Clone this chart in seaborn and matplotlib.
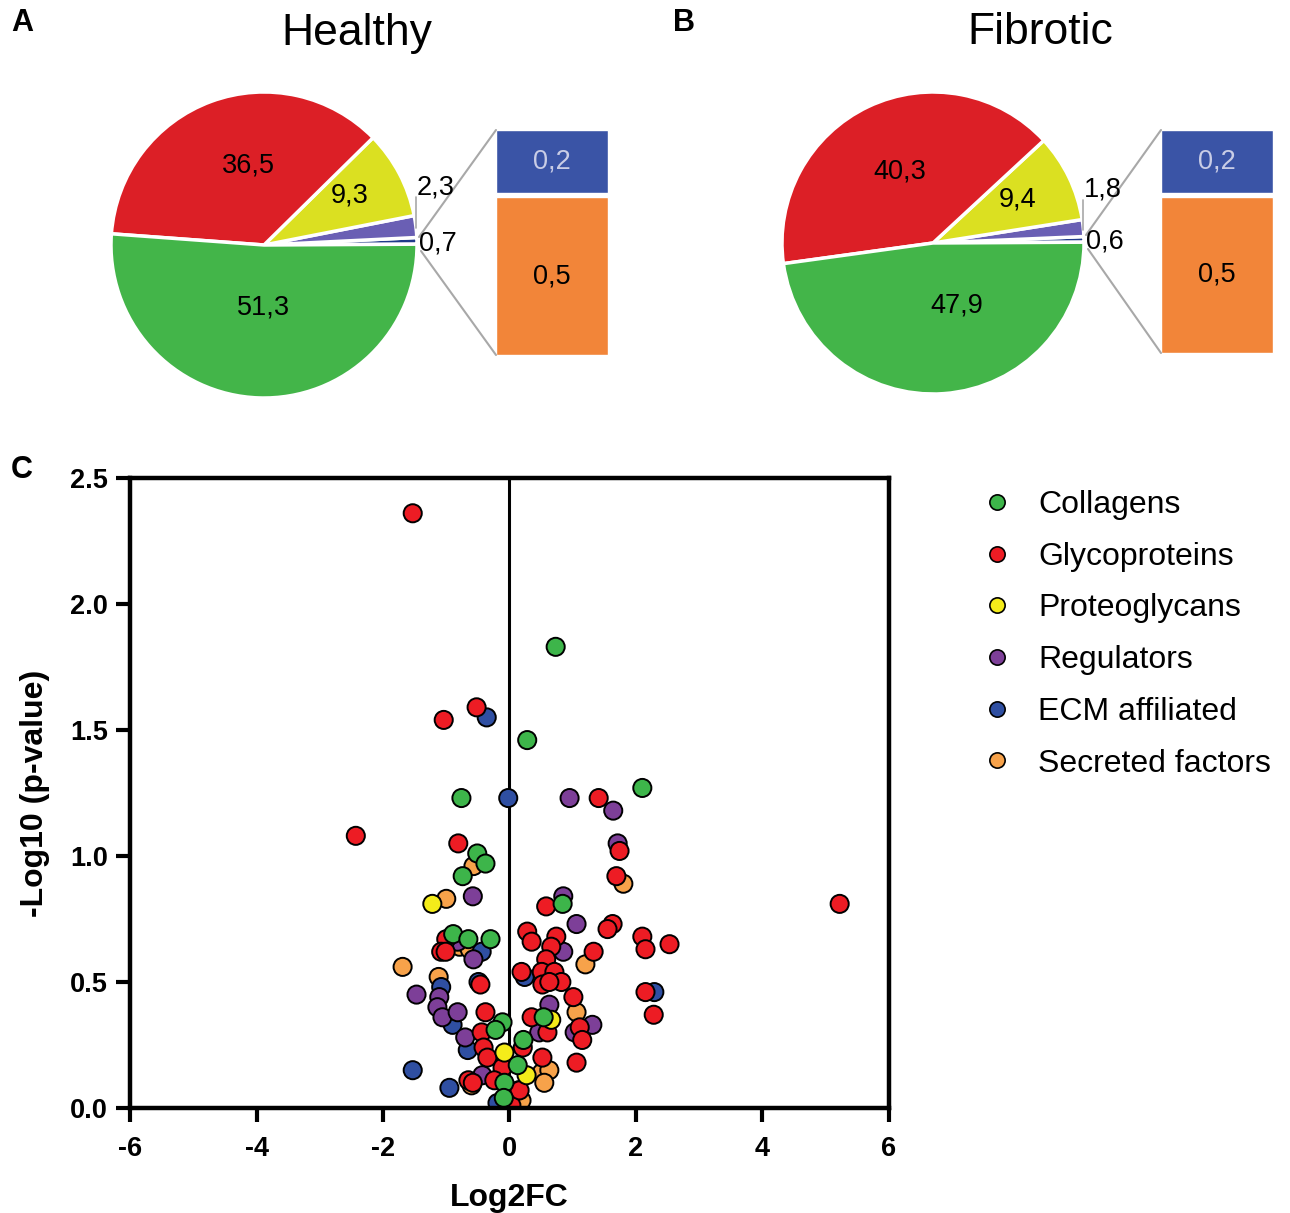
import matplotlib
matplotlib.use("Agg")
import matplotlib.pyplot as plt
from matplotlib.lines import Line2D
import pandas as pd
import seaborn as sns

W, H = 1290, 1213

# --- pie data (A: healthy, B: fibrotic), small slice = ECM affiliated + secreted factors
pie_names = ["Other", "Regulators", "Proteoglycans", "Glycoproteins", "Collagens"]
healthy_pct = [0.7, 2.3, 9.3, 36.5, 51.3]
fibrotic_pct = [0.6, 1.8, 9.4, 40.3, 47.9]
pie_text = {
    "healthy": ["0,7", "2,3", "9,3", "36,5", "51,3"],
    "fibrotic": ["0,6", "1,8", "9,4", "40,3", "47,9"],
}
bar_names = ["Secreted factors", "ECM affiliated"]
healthy_bar = [0.5, 0.2]
fibrotic_bar = [0.5, 0.2]
bar_text = ["0,5", "0,2"]

# --- volcano data (Log2FC, -Log10 p)
collagen_x = [0.73, 0.28, -0.76, 2.10, -0.51, -0.38, -0.74, 0.84, -0.89, -0.65, -0.30,
              0.54, -0.11, -0.22, 0.22, 0.13, -0.08, -0.09]
collagen_y = [1.83, 1.46, 1.23, 1.27, 1.01, 0.97, 0.92, 0.81, 0.69, 0.67, 0.67,
              0.36, 0.34, 0.31, 0.27, 0.17, 0.10, 0.04]
glyco_x = [-1.53, -0.52, -1.04, 1.41, -2.43, -0.81, 1.74, 1.69, 5.22, 0.58, 1.63, 1.55,
           0.28, 0.35, 0.74, 0.66, 1.33, 2.10, 2.15, 2.53, 0.58, 0.19, 0.51, 0.71, 0.82,
           0.52, 0.63, 1.01, 2.15, 2.28, 1.11, 1.15, 1.06, 0.35, 0.60, 0.21, 0.52, 0.14,
           0.03, -1.00, -1.08, -1.01, -0.46, -0.38, -0.44, -0.41, -0.35, -0.11, -0.65,
           -0.58, -0.24, 0.16]
glyco_y = [2.36, 1.59, 1.54, 1.23, 1.08, 1.05, 1.02, 0.92, 0.81, 0.80, 0.73, 0.71,
           0.70, 0.66, 0.68, 0.64, 0.62, 0.68, 0.63, 0.65, 0.59, 0.54, 0.54, 0.54, 0.50,
           0.49, 0.50, 0.44, 0.46, 0.37, 0.32, 0.27, 0.18, 0.36, 0.30, 0.24, 0.20, 0.07,
           0.01, 0.67, 0.62, 0.62, 0.49, 0.38, 0.30, 0.24, 0.20, 0.16, 0.11,
           0.10, 0.11, 0.07]
proteo_x = [-1.22, -0.08, 0.27, 0.66]
proteo_y = [0.81, 0.22, 0.13, 0.35]
regul_x = [0.95, 1.64, 1.71, -0.58, 0.85, 1.06, 0.85, -0.82, -0.57, 0.63, 1.03, 1.31,
           0.47, -1.47, -1.11, -1.14, -1.06, -0.82, -0.70, -0.43]
regul_y = [1.23, 1.18, 1.05, 0.84, 0.84, 0.73, 0.62, 0.66, 0.59, 0.41, 0.30, 0.33,
           0.30, 0.45, 0.44, 0.40, 0.36, 0.38, 0.28, 0.13]
ecm_x = [-0.36, -0.02, -0.44, -0.49, -1.08, 0.24, 2.29, -0.90, -0.66, -1.53, -0.95, -0.19]
ecm_y = [1.55, 1.23, 0.62, 0.50, 0.48, 0.52, 0.46, 0.33, 0.23, 0.15, 0.08, 0.02]
secr_x = [-0.57, 1.80, -1.00, -0.79, -0.63, -1.69, -1.12, 1.20, 1.06, 0.51, 0.63, 0.55,
          0.19, -0.60]
secr_y = [0.96, 0.89, 0.83, 0.64, 0.63, 0.56, 0.52, 0.57, 0.38, 0.14, 0.15, 0.10,
          0.03, 0.09]

legend_order = ["Collagens", "Glycoproteins", "Proteoglycans", "Regulators",
                "ECM affiliated", "Secreted factors"]
scatter_colors = {
    "Collagens": "#3db54a", "Glycoproteins": "#ed1c24", "Proteoglycans": "#f4ec1a",
    "Regulators": "#7d3f98", "ECM affiliated": "#2f4fa2", "Secreted factors": "#f7a24a",
}
pie_colors = ["#1f3a8a", "#6a5fb4", "#dbe021", "#dc1f26", "#43b549"]
bar_colors = ["#f28539", "#3a54a6"]

sns.set_style("white")
plt.rcParams["font.family"] = ["Liberation Sans", "DejaVu Sans"]
plt.rcParams.update({"text.color": "black", "axes.labelcolor": "black",
                     "xtick.color": "black", "ytick.color": "black"})

fig = plt.figure(figsize=(W / 100, H / 100), dpi=100)

# ---------- top panels, drawn in pixel coordinates (y up)
top = fig.add_axes([0, 0, 1, 1])


def Y(py):
    return H - py


def pie_panel(pct, labels, bar_vals, cx, cy, r, bar_x, bar_top, bar_bot, text_pos, leader):
    top.pie(pct, colors=pie_colors, startangle=0.3, counterclock=True,
            center=(cx, Y(cy)), radius=r,
            wedgeprops=dict(edgecolor="white", linewidth=2.5))
    for lab, (tx, ty) in zip(labels, text_pos):
        top.text(tx, Y(ty), lab, fontsize=19.5, ha="center", va="center")
    # leader for the small outside label
    top.plot([leader[0], leader[0]], [Y(leader[1]), Y(leader[2])], color="#a8a8a8", lw=1.2)
    # bar of pie
    gap = 4
    scale = (bar_bot - bar_top - gap) / sum(bar_vals)
    bottom = Y(bar_bot)
    for v, c, t, tc in zip(bar_vals, bar_colors, bar_text, ["black", "#c9cde6"]):
        top.bar(bar_x, v * scale, width=112, bottom=bottom, color=c, align="center")
        top.text(bar_x, bottom + v * scale / 2, t, fontsize=19.5, ha="center",
                 va="center", color=tc)
        bottom += v * scale + gap
    # connector lines
    left = bar_x - 56
    top.plot([cx + r + 2, left], [Y(cy - 8), Y(bar_top)], color="#a8a8a8", lw=1.5)
    top.plot([cx + r + 4, left], [Y(cy + 6), Y(bar_bot)], color="#a8a8a8", lw=1.5)


pie_panel(healthy_pct, pie_text["healthy"], healthy_bar, 264, 245, 153, 552, 130, 355,
          [(438, 243), (436, 187), (350, 195), (248, 165), (264, 307)], (416, 197, 228))
pie_panel(fibrotic_pct, pie_text["fibrotic"], fibrotic_bar, 933, 243, 151, 1217, 130, 353,
          [(1105, 242), (1103, 190), (1018, 199), (900, 172), (957, 305)], (1083, 200, 230))

top.set_xlim(0, W)
top.set_ylim(0, H)
top.set_aspect("auto")
top.axis("off")

top.text(357, Y(33), "Healthy", fontsize=32, ha="center", va="center")
top.text(1040, Y(33), "Fibrotic", fontsize=32, ha="center", va="center")
for lab, (px, py) in zip(["A", "B", "C"], [(22, 23), (684, 23), (22, 470)]):
    top.text(px, Y(py), lab, fontsize=22, fontweight="bold", ha="center", va="center")

# ---------- volcano plot
groups = [
    ("Secreted factors", secr_x, secr_y),
    ("ECM affiliated", ecm_x, ecm_y),
    ("Regulators", regul_x, regul_y),
    ("Glycoproteins", glyco_x, glyco_y),
    ("Proteoglycans", proteo_x, proteo_y),
    ("Collagens", collagen_x, collagen_y),
]
df = pd.concat(
    [pd.DataFrame({"Log2FC": xs, "p": ys, "category": name}) for name, xs, ys in groups],
    ignore_index=True,
)

ax = fig.add_axes([130 / W, 1 - 1108 / H, 759 / W, 630 / H])
ax.axvline(0, color="black", lw=2.2, zorder=0.5)
sns.scatterplot(data=df, x="Log2FC", y="p", hue="category", palette=scatter_colors,
                s=170, edgecolor="black", linewidth=1.4, legend=False, ax=ax, zorder=2)

ax.set_xlim(-6, 6)
ax.set_ylim(0, 2.5)
xt = [-6, -4, -2, 0, 2, 4, 6]
yt = [0, 0.5, 1.0, 1.5, 2.0, 2.5]
ax.set_xticks(xt)
ax.set_xticklabels([str(v) for v in xt], fontsize=19.5, fontweight="bold")
ax.set_yticks(yt)
ax.set_yticklabels([f"{v:.1f}" for v in yt], fontsize=19.5, fontweight="bold")
ax.tick_params(axis="both", direction="out", length=10, width=3, color="black",
               bottom=True, left=True)
ax.tick_params(axis="x", pad=10)
ax.tick_params(axis="y", pad=6)
for sp in ax.spines.values():
    sp.set_linewidth(3.2)
    sp.set_color("black")
    sp.set_visible(True)
ax.set_xlabel("Log2FC", fontsize=23, fontweight="bold", labelpad=15)
ax.set_ylabel("-Log10 (p-value)", fontsize=23, fontweight="bold", labelpad=14)

handles = [Line2D([0], [0], marker="o", linestyle="", markersize=11,
                  markerfacecolor=scatter_colors[n], markeredgecolor="black",
                  markeredgewidth=1.2) for n in legend_order]
fig.legend(handles, legend_order, loc="upper left", bbox_to_anchor=(982 / W, 1 - 490 / H),
           frameon=False, fontsize=23, handlelength=0.93, handletextpad=0.83,
           borderpad=0, borderaxespad=0, labelspacing=0.68)

fig.savefig("out.png", dpi=100)
